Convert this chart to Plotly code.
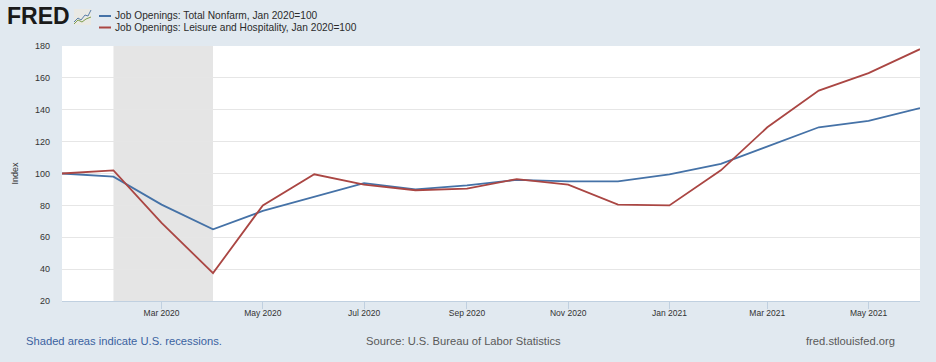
import plotly.graph_objects as go

months = ["2020-01-01","2020-02-01","2020-03-01","2020-04-01","2020-05-01","2020-06-01",
          "2020-07-01","2020-08-01","2020-09-01","2020-10-01","2020-11-01","2020-12-01",
          "2021-01-01","2021-02-01","2021-03-01","2021-04-01","2021-05-01","2021-06-01"]
total_nonfarm = [100,98,80.5,65,76.5,85.5,94,90,92.5,96,95,95,99.5,106,117,129,133,141]
leisure_hospitality = [100,102,69,37.5,80,99.5,93,89.5,90.5,96.5,93,80.5,80,102,129,152,163,178]
name_total = "Job Openings: Total Nonfarm, Jan 2020=100"
name_leisure = "Job Openings: Leisure and Hospitality, Jan 2020=100"
recession = ["2020-02-01", "2020-04-01"]
tick_dates = ["2020-03-01","2020-05-01","2020-07-01","2020-09-01","2020-11-01","2021-01-01","2021-03-01","2021-05-01"]
tick_labels = ["Mar 2020","May 2020","Jul 2020","Sep 2020","Nov 2020","Jan 2021","Mar 2021","May 2021"]
y_ticks = [20,40,60,80,100,120,140,160,180]

W, H = 936, 362
L, R, T, B = 62, 920, 46, 301
BLUE, RED = "#4572a7", "#aa4643"
FONT = "Liberation Sans"

def px(x): return (x - L) / (R - L)
def py(y): return (B - y) / (B - T)

fig = go.Figure()
fig.add_trace(go.Scatter(x=months, y=total_nonfarm, name=name_total, mode="lines",
                         line=dict(color=BLUE, width=1.8)))
fig.add_trace(go.Scatter(x=months, y=leisure_hospitality, name=name_leisure, mode="lines",
                         line=dict(color=RED, width=1.8)))

shapes = [dict(type="rect", xref="x", yref="paper", x0=recession[0], x1=recession[1], y0=0, y1=1,
               fillcolor="#e5e5e5", line_width=0, layer="below")]
for yy, c in ((16, BLUE), (27.5, RED)):
    shapes.append(dict(type="line", xref="paper", yref="paper", x0=px(99), x1=px(111),
                       y0=py(yy), y1=py(yy), line=dict(color=c, width=2)))
# small FRED logo icon
shapes.append(dict(type="rect", xref="paper", yref="paper", x0=px(74), x1=px(91), y0=py(25), y1=py(9),
                   fillcolor="#e9e9e4", line_width=0))
def path(pts):
    return "M " + " L ".join(f"{px(a)} {py(b)}" for a, b in pts)
shapes.append(dict(type="path", xref="paper", yref="paper", path=path([(74,22),(78,18),(81,20),(85,15),(88,16),(91,10)]),
                   line=dict(color="#5b7fa8", width=1)))
shapes.append(dict(type="path", xref="paper", yref="paper", path=path([(74,24),(78,20),(82,22),(86,19),(91,17)]),
                   line=dict(color="#7f9f4f", width=1)))

def note(text, x, y, size, color, anchor="left", **kw):
    return dict(text=text, xref="paper", yref="paper", x=px(x), y=py(y), showarrow=False,
                xanchor=anchor, yanchor="middle", font=dict(family=FONT, size=size, color=color), **kw)

annotations = [
    note("<b>FRED</b>", 5, 16, 23, "#1a1a1a"),
    note(name_total, 113, 16, 10.2, "#2b2b2b"),
    note(name_leisure, 113, 27.5, 10.2, "#2b2b2b"),
    note("Shaded areas indicate U.S. recessions.", 24, 341, 11.2, "#3a62a0"),
    note("Source: U.S. Bureau of Labor Statistics", 364, 341, 11.2, "#595959"),
    note("fred.stlouisfed.org", 897, 341, 11.2, "#595959", anchor="right"),
]

fig.update_layout(
    width=W, height=H, autosize=False, showlegend=False,
    margin=dict(l=L, r=W-R, t=T, b=H-B),
    paper_bgcolor="#e1e9f0", plot_bgcolor="#ffffff",
    font=dict(family=FONT, size=10, color="#333333"),
    shapes=shapes, annotations=annotations,
    xaxis=dict(type="date", range=[months[0], months[-1]], tickvals=tick_dates, ticktext=tick_labels,
               showgrid=False, ticks="outside", ticklen=7, tickcolor="#c0d0e0", tickwidth=1,
               showline=True, linecolor="#c0d0e0", linewidth=1, zeroline=False, ticklabelstandoff=-3,
               tickfont=dict(size=8.5, color="#333333")),
    yaxis=dict(range=[20, 180], tickvals=y_ticks, showgrid=True, gridcolor="#e6e6e6", gridwidth=1,
               zeroline=False, showline=False, ticks="", ticklabelstandoff=11,
               tickfont=dict(size=9, color="#333333"),
               title=dict(text="Index", font=dict(size=9, color="#333333"), standoff=14)),
)
fig.write_html("out.html", config={"displayModeBar": False},
               post_script="document.body.style.margin='0';document.body.style.overflow='hidden';")
